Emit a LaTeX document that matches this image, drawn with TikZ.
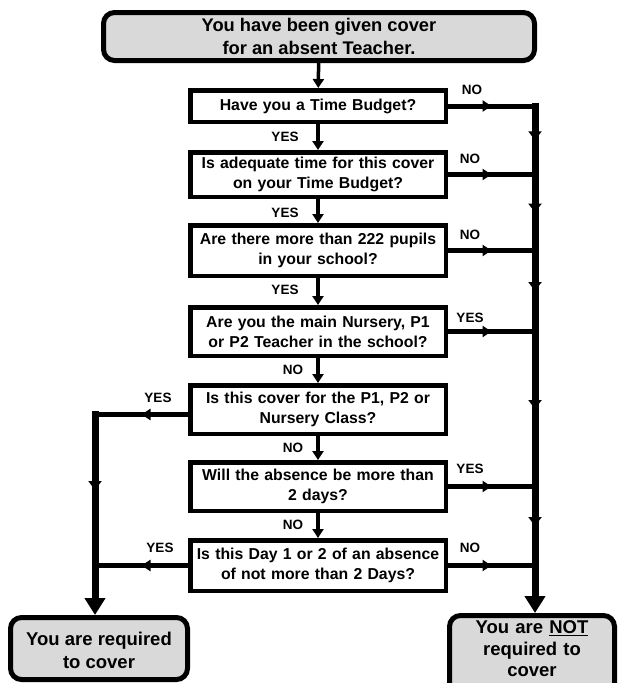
\documentclass[tikz,border=0pt]{standalone}
\usepackage{fontspec}
\setmainfont{Liberation Sans}
\usetikzlibrary{arrows.meta,decorations.markings}
\definecolor{termgray}{HTML}{D9D9D9}
\begin{document}
\begin{tikzpicture}[x=1pt,y=-1pt,
  dec/.style={draw, line width=4.5pt, fill=white, minimum width=255.5pt, text width=255pt, align=center, inner sep=0pt, font=\bfseries\fontsize{15.8}{20}\selectfont},
  term/.style={draw, line width=5pt, fill=termgray, rounded corners=11pt, align=center, inner sep=0pt, font=\bfseries\fontsize{18.3}{23}\selectfont},
  lbl/.style={font=\bfseries\fontsize{13.5}{16}\selectfont, inner sep=0pt},
  flow/.style={line width=3.5pt, -{Triangle[width=11pt,length=9pt]}},
  conn/.style={line width=5pt, line cap=rect, postaction={decorate}, decoration={markings, mark=at position 0.5 with {\arrow{Triangle[width=11pt,length=9pt]}}}},
  trunk/.style={line width=7pt, line cap=rect, postaction={decorate}, decoration={markings, mark=at position 0.5 with {\arrow{Triangle[width=13pt,length=9pt]}}}},
  final/.style={line width=7pt, -{Triangle[width=20pt,length=17pt]}}
]
\useasboundingbox (0,0) rectangle (618,683);

% nodes
\node[term, minimum width=431pt, minimum height=48pt] (start) at (319,36.5) {You have been given cover\\for an absent Teacher.};
\node[dec, minimum height=31.5pt] (b1) at (318,106) {Have you a Time Budget?};
\node[dec, minimum height=44.5pt] (b2) at (318,174.5) {Is adequate time for this cover\\on your Time Budget?};
\node[dec, minimum height=50.5pt] (b3) at (318,250.5) {Are there more than 222 pupils\\in your school?};
\node[dec, minimum height=48.5pt] (b4) at (318,331.5) {Are you the main Nursery, P1\\or P2 Teacher in the school?};
\node[dec, minimum height=48.5pt] (b5) at (318,409.5) {Is this cover for the P1, P2 or\\Nursery Class?};
\node[dec, minimum height=48.5pt] (b6) at (318,486.5) {Will the absence be more than\\2 days?};
\node[dec, minimum height=50.5pt] (b7) at (318,565.5) {Is this Day 1 or 2 of an absence\\of not more than 2 Days?};

\node[term, minimum width=177pt, minimum height=62pt, font=\bfseries\fontsize{18.5}{23}\selectfont] (req) at (99,648.5) {\rule{0pt}{18pt}You are required\\to cover};
\node[term, anchor=north, minimum width=165pt, text width=160pt, inner ysep=5.5pt, font=\bfseries\fontsize{18.5}{21.5}\selectfont] (notreq) at (532,613) {You are \underline{NOT}\\required to\\cover\rule[-14pt]{0pt}{14pt}};

% junction coordinates
\coordinate (rx) at (535,0);
\coordinate (lx) at (95,0);
\coordinate (j1) at (b1.east -| rx);
\coordinate (j2) at (b2.east -| rx);
\coordinate (j3) at (b3.east -| rx);
\coordinate (j4) at (b4.east -| rx);
\coordinate (j6) at (b6.east -| rx);
\coordinate (j7) at (b7.east -| rx);
\coordinate (b5w) at ([yshift=-5pt]b5.west);
\coordinate (l5) at (b5w -| lx);
\coordinate (l7) at (b7.west -| lx);

% main flow
\draw[flow] (start) -- (b1);
\draw[flow] (b1) -- (b2);
\draw[flow] (b2) -- (b3);
\draw[flow] (b3) -- (b4);
\draw[flow] (b4) -- (b5);
\draw[flow] (b5) -- (b6);
\draw[flow] (b6) -- (b7);

% right side
\draw[conn] (b1.east) -- (j1);
\draw[conn] (b2.east) -- (j2);
\draw[conn] (b3.east) -- (j3);
\draw[conn] (b4.east) -- (j4);
\draw[conn] (b6.east) -- (j6);
\draw[conn] (b7.east) -- (j7);
\draw[trunk] (j1) -- (j2);
\draw[trunk] (j2) -- (j3);
\draw[trunk] (j3) -- (j4);
\draw[trunk] (j4) -- (j6);
\draw[trunk] (j6) -- (j7);
\draw[final] (j7) -- (j7 |- notreq.north);

% left side
\draw[conn] (b5w) -- (l5);
\draw[conn] (b7.west) -- (l7);
\draw[trunk] (l5) -- (l7);
\draw[final] (l7) -- (l7 |- req.north);

% labels
\node[lbl] (y12) at (285,137) {YES};
\node[lbl] (y23) at (285,213) {YES};
\node[lbl] (y34) at (285,290) {YES};
\node[lbl] (n45) at (293,370) {NO};
\node[lbl] (n56) at (293,448) {NO};
\node[lbl] (n67) at (293,525) {NO};

\node[lbl] (r1) at (472,90) {NO};
\node[lbl] (r2) at (470,159) {NO};
\node[lbl] (r3) at (470,235) {NO};
\node[lbl] (r4) at (470,318) {YES};
\node[lbl] (r6) at (470,469) {YES};
\node[lbl] (r7) at (470,548) {NO};

\node[lbl] (l5lbl) at (158,398) {YES};
\node[lbl] (l7lbl) at (160,548) {YES};
\end{tikzpicture}
\end{document}
